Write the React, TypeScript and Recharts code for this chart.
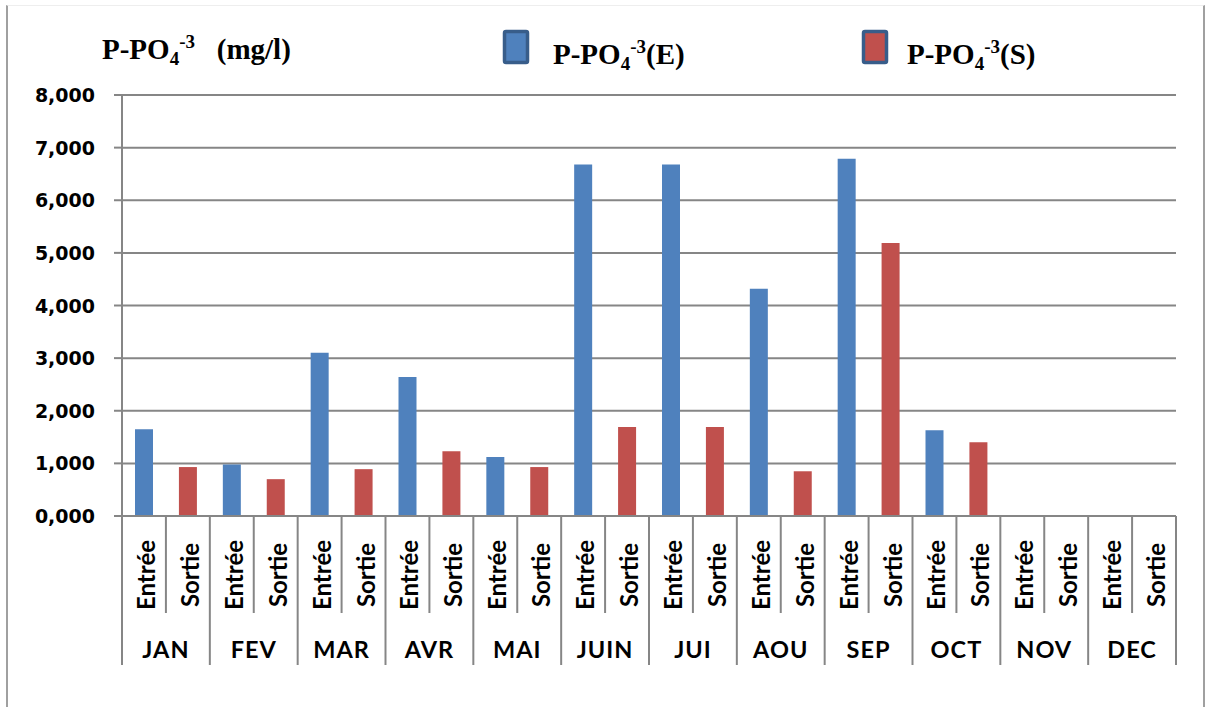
import React from 'react';
import { BarChart, Bar, XAxis, YAxis, CartesianGrid, Legend } from 'recharts';

// Monthly P-PO4 concentrations (mg/l) at the inlet (Entrée) and outlet (Sortie)
const MONTHS = ['JAN', 'FEV', 'MAR', 'AVR', 'MAI', 'JUIN', 'JUI', 'AOU', 'SEP', 'OCT', 'NOV', 'DEC'];
const ENTREE: (number | null)[] = [1.65, 0.98, 3.1, 2.64, 1.12, 6.68, 6.68, 4.32, 6.79, 1.63, null, null];
const SORTIE: (number | null)[] = [0.93, 0.7, 0.89, 1.23, 0.93, 1.69, 1.69, 0.85, 5.19, 1.4, null, null];
const SUB_LABELS = ['Entrée', 'Sortie'];
const Y_TICKS = [0, 1, 2, 3, 4, 5, 6, 7, 8];
const SERIES_CODES = ['E', 'S'];

const BLUE = '#4F81BD';
const RED = '#C0504D';
const GRID = '#868686';

// Chart geometry
const W = 1208;
const H = 707;
const MARGIN = { top: 95, right: 32, bottom: 41, left: 0 };
const Y_AXIS_W = 122;
const X_AXIS_H = 150;
const PLOT_W = W - MARGIN.left - MARGIN.right - Y_AXIS_W;

type Row = { id: string; month: string; sub: string; E: number | null; S: number | null };

const rows: Row[] = [];
MONTHS.forEach((m, i) => {
  rows.push({ id: `${m}-E`, month: m, sub: SUB_LABELS[0], E: ENTREE[i], S: null });
  rows.push({ id: `${m}-S`, month: m, sub: SUB_LABELS[1], E: null, S: SORTIE[i] });
});

const BAND = PLOT_W / rows.length;

const fmt = (v: number) => v.toFixed(3).replace('.', ',');

const labelFont = 'Lato, "Open Sans", sans-serif';

function CategoryTick(props: any) {
  const { x, y, index } = props;
  const row = rows[index];
  if (!row) return null;
  const half = BAND / 2;
  const isFirstOfMonth = row.sub === SUB_LABELS[0];
  const lx = x + 11;
  const ly = y + 59;
  return (
    <g>
      <text
        x={lx}
        y={ly}
        transform={`rotate(-90, ${lx}, ${ly})`}
        textAnchor="middle"
        fontFamily={labelFont}
        fontWeight={700}
        fontSize={24}
        fill="#000"
      >
        {row.sub}
      </text>
      {isFirstOfMonth && (
        <text
          x={x + half}
          y={y + 142}
          textAnchor="middle"
          fontFamily={labelFont}
          fontWeight={700}
          fontSize={23.5}
          letterSpacing={1}
          fill="#000"
        >
          {row.month}
        </text>
      )}
      {index === 0 && (
        <line x1={x - half} x2={x - half} y1={y} y2={y + 149} stroke={GRID} strokeWidth={2} />
      )}
      <line
        x1={x + half}
        x2={x + half}
        y1={y}
        y2={isFirstOfMonth ? y + 97 : y + 149}
        stroke={GRID}
        strokeWidth={2}
      />
    </g>
  );
}

function ValueTick(props: any) {
  const { x, y, payload } = props;
  return (
    <text
      x={x}
      y={y}
      dy={7}
      textAnchor="end"
      fontFamily='"DejaVu Sans", sans-serif'
      fontWeight={700}
      fontSize={19}
      fill="#000"
    >
      {fmt(payload.value)}
    </text>
  );
}

// P-PO4^-3 formula drawn with tspans (subscript 4, superscript -3)
function Formula({ x, y, size, tail }: { x: number; y: number; size: number; tail: string }) {
  const small = Math.round(size * 0.64);
  return (
    <text
      x={x}
      y={y}
      fontFamily='"Liberation Serif", "Times New Roman", serif'
      fontWeight={700}
      fontSize={size}
      fill="#000"
    >
      <tspan>P-PO</tspan>
      <tspan fontSize={small} dy={6}>4</tspan>
      <tspan fontSize={small} dy={-17}>-3</tspan>
      <tspan dy={11} style={{ whiteSpace: 'pre' }}>{tail}</tspan>
    </text>
  );
}

const LEGEND_POS = [
  { box: 503, text: 553 },
  { box: 862, text: 907 },
];

function renderLegend(props: any) {
  const payload = props.payload || [];
  return (
    <svg width={W} height={90} style={{ display: 'block' }}>
      <Formula x={102} y={59} size={29} tail={'   (mg/l)'} />
      {payload.map((p: any, i: number) => {
        const pos = LEGEND_POS[i];
        return (
          <g key={p.value}>
            <rect
              x={pos.box + 1.5}
              y={31.5}
              width={23}
              height={31}
              fill={p.color}
              stroke="#385D8A"
              strokeWidth={3.5}
              rx={1.5}
            />
            <Formula x={pos.text} y={64} size={29} tail={`(${SERIES_CODES[i]})`} />
          </g>
        );
      })}
    </svg>
  );
}

export default function App() {
  return (
    <div style={{ position: 'absolute', left: 0, top: 0, width: W, height: H, background: '#fff', overflow: 'hidden' }}>
      <div
        style={{
          position: 'absolute',
          left: 6,
          top: 5,
          width: 1195,
          height: 720,
          borderLeft: '2px solid #a0a0a0',
          borderRight: '2px solid #a0a0a0',
          borderTop: '1px solid #eeeeee',
        }}
      />
      <BarChart width={W} height={H} data={rows} margin={MARGIN} barCategoryGap={0}>
        <CartesianGrid vertical={false} stroke={GRID} strokeWidth={2} />
        <XAxis
          dataKey="id"
          interval={0}
          height={X_AXIS_H}
          tickLine={false}
          tickSize={0}
          tickMargin={0}
          axisLine={{ stroke: GRID, strokeWidth: 2 }}
          tick={<CategoryTick />}
        />
        <YAxis
          width={Y_AXIS_W}
          domain={[0, 8]}
          ticks={Y_TICKS}
          interval={0}
          tickSize={8}
          tickMargin={19}
          tickLine={{ stroke: GRID, strokeWidth: 2 }}
          axisLine={{ stroke: GRID, strokeWidth: 2 }}
          tick={<ValueTick />}
        />
        <Legend
          layout="horizontal"
          verticalAlign="middle"
          content={renderLegend}
          wrapperStyle={{ position: 'absolute', left: 0, top: 0, width: W, height: 90 }}
        />
        <Bar dataKey="E" name="E" stackId="a" fill={BLUE} barSize={18} isAnimationActive={false} />
        <Bar dataKey="S" name="S" stackId="a" fill={RED} barSize={18} isAnimationActive={false} />
      </BarChart>
    </div>
  );
}
